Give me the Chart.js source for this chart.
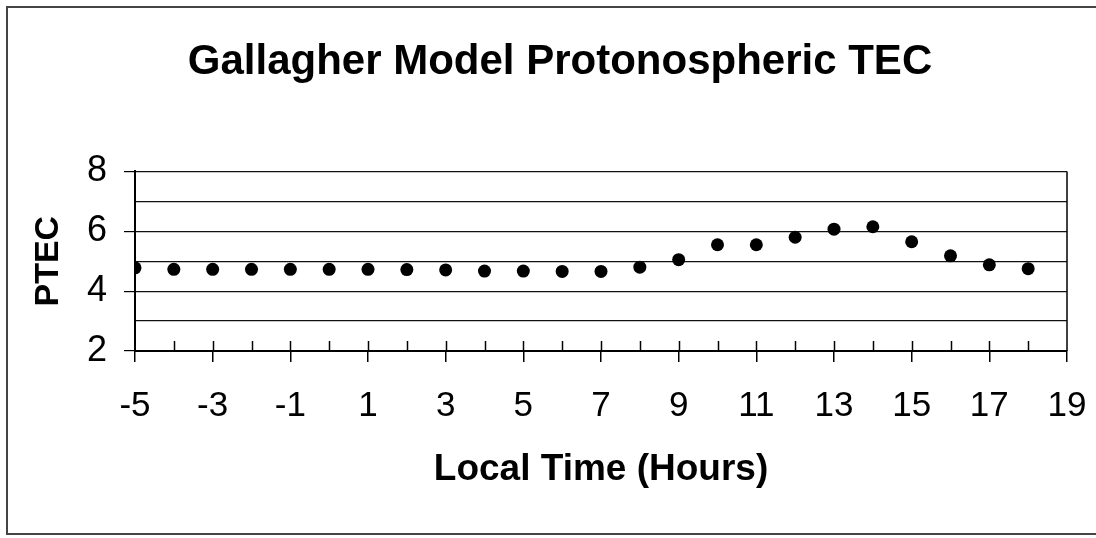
<!DOCTYPE html>
<html>
<head>
<meta charset="utf-8">
<title>Gallagher Model Protonospheric TEC</title>
<script src="https://cdn.jsdelivr.net/npm/chart.js@4/dist/chart.umd.min.js"></script>
<style>
    html, body { margin: 0; padding: 0; background: #fff; overflow: hidden; }
    #wrap { position: relative; width: 1096px; height: 538px; }
    #frame {
        position: absolute; left: 6px; top: 6px; width: 1200px; height: 529px;
        border: 2px solid #444; box-sizing: border-box;
    }
    canvas { position: absolute; left: 0; top: 0; }
</style>
</head>
<body>
<div id="wrap">
    <div id="frame"></div>
    <canvas id="chart" width="1096" height="538"></canvas>
</div>
<script>
// data
const hours = [-5, -4, -3, -2, -1, 0, 1, 2, 3, 4, 5, 6, 7, 8, 9, 10, 11, 12, 13, 14, 15, 16, 17, 18];
const ptec = [4.78, 4.73, 4.73, 4.73, 4.73, 4.73, 4.73, 4.72, 4.71, 4.67, 4.67, 4.66, 4.66, 4.8,
              5.05, 5.55, 5.55, 5.8, 6.07, 6.15, 5.65, 5.18, 4.88, 4.75];
const xRange = [-5, 19];
const yRange = [2, 8];

const FONT = "'Liberation Sans', Arial, sans-serif";

// inner tick marks on the x axis + right border of the plot
const plotDecor = {
    id: 'plotDecor',
    afterDraw(chart) {
        const { ctx, chartArea } = chart;
        const xs = chart.scales.x;
        ctx.save();
        ctx.strokeStyle = '#000';
        ctx.lineWidth = 1.5;
        xs.ticks.forEach(t => {
            if (t.value <= xRange[0] || t.value >= xRange[1]) return;
            const px = Math.round(xs.getPixelForValue(t.value)) + 0.5;
            ctx.beginPath();
            ctx.moveTo(px, chartArea.bottom);
            ctx.lineTo(px, chartArea.bottom - 10);
            ctx.stroke();
        });
        ctx.beginPath();
        ctx.moveTo(chartArea.right, chartArea.top);
        ctx.lineTo(chartArea.right, chartArea.bottom);
        ctx.stroke();
        ctx.restore();
    }
};

new Chart(document.getElementById('chart'), {
    type: 'scatter',
    data: {
        datasets: [{
            data: hours.map((h, i) => ({ x: h, y: ptec[i] })),
            backgroundColor: '#000',
            borderWidth: 0,
            pointRadius: 6.5,
            showLine: false
        }]
    },
    options: {
        responsive: false,
        animation: false,
        layout: { padding: { left: 53, right: 29, top: 0, bottom: 0 } },
        plugins: {
            legend: { display: false },
            tooltip: { enabled: false },
            title: {
                display: true,
                text: 'Gallagher Model Protonospheric TEC',
                color: '#000',
                font: { family: FONT, size: 42, weight: 'bold' },
                padding: { top: 37, bottom: 84 }
            }
        },
        scales: {
            x: {
                type: 'linear',
                min: xRange[0],
                max: xRange[1],
                afterFit: s => { s.height = 187; s.paddingRight = 0; s.paddingLeft = 0; },
                ticks: {
                    stepSize: 1,
                    autoSkip: false,
                    maxRotation: 0,
                    color: '#000',
                    padding: 23,
                    font: { family: FONT, size: 35 },
                    callback: v => (Math.abs(v % 2) === 1 ? v : '')
                },
                grid: {
                    drawOnChartArea: false,
                    tickLength: 11,
                    lineWidth: 1.5,
                    tickColor: c => (c.tick && Math.abs(c.tick.value % 2) === 1 ? '#000' : 'rgba(0,0,0,0)')
                },
                border: { color: '#000', width: 2 },
                title: {
                    display: true,
                    text: 'Local Time (Hours)',
                    color: '#000',
                    font: { family: FONT, size: 37, weight: 'bold' },
                    padding: { top: 0, bottom: 46 }
                }
            },
            y: {
                min: yRange[0],
                max: yRange[1],
                afterFit: s => { s.width = 82; },
                ticks: {
                    stepSize: 1,
                    autoSkip: false,
                    color: '#000',
                    padding: 17,
                    font: { family: FONT, size: 36 },
                    callback: v => (v % 2 === 0 ? v : '')
                },
                grid: {
                    color: '#111',
                    lineWidth: 1.2,
                    tickLength: 11,
                    tickColor: c => (c.tick && c.tick.value % 2 === 0 ? '#000' : 'rgba(0,0,0,0)')
                },
                border: { color: '#000', width: 2 },
                title: {
                    display: true,
                    text: 'PTEC',
                    color: '#000',
                    font: { family: FONT, size: 34, weight: 'bold' },
                    padding: { top: -25, bottom: 0 }
                }
            }
        }
    },
    plugins: [plotDecor]
});
</script>
</body>
</html>
